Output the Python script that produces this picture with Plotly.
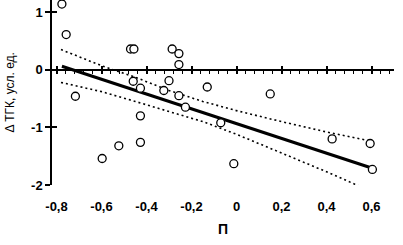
import plotly.graph_objects as go

# ---- data ----
pts_x = [-0.776, -0.757, -0.716, -0.471, -0.456, -0.286, -0.256, -0.256,
         -0.459, -0.427, -0.300, -0.323, -0.256, -0.227, -0.130, 0.150,
         -0.070, -0.427, 0.425, 0.594, 0.604, -0.012, -0.597, -0.523, -0.427]
pts_y = [1.14, 0.61, -0.46, 0.36, 0.36, 0.36, 0.28, 0.09,
         -0.20, -0.32, -0.19, -0.36, -0.45, -0.65, -0.30, -0.42,
         -0.92, -0.80, -1.20, -1.28, -1.73, -1.63, -1.54, -1.32, -1.26]

fit_x = [-0.776, 0.604]
fit_y = [0.06, -1.71]

upper_x = [-0.78, -0.60, -0.45, -0.30, -0.15, 0.00, 0.20, 0.40, 0.60]
upper_y = [0.35, 0.07, -0.13, -0.36, -0.55, -0.71, -0.90, -1.08, -1.24]

lower_x = [-0.78, -0.60, -0.45, -0.30, -0.15, 0.00, 0.20, 0.40, 0.58]
lower_y = [-0.22, -0.38, -0.55, -0.72, -0.90, -1.12, -1.44, -1.77, -2.08]

x_tickvals = [-0.8, -0.6, -0.4, -0.2, 0.0, 0.2, 0.4, 0.6]
x_ticktext = ["-0,8", "-0,6", "-0,4", "-0,2", "0", "0,2", "0,4", "0,6"]
x_minor = [round(-0.8 + 0.04 * i, 2) for i in range(38)]
y_tickvals = [-2, -1, 0, 1]
y_ticktext = ["-2", "-1", "0", "1"]

x_title = "П"
y_title = "Δ ТГК, усл. ед."

x_range = [-0.82, 0.70]
y_range = [-2.0, 1.21]

# ---- figure ----
font = dict(family="Arial, Liberation Sans", size=13, color="black", weight="bold")

fig = go.Figure()
dot = dict(color="black", width=1.6, dash="2px,3px")
fig.add_trace(go.Scatter(x=upper_x, y=upper_y, mode="lines", line=dot, hoverinfo="skip"))
fig.add_trace(go.Scatter(x=lower_x, y=lower_y, mode="lines", line=dot, hoverinfo="skip"))
fig.add_trace(go.Scatter(x=fit_x, y=fit_y, mode="lines",
                         line=dict(color="black", width=3)))
fig.add_trace(go.Scatter(x=pts_x, y=pts_y, mode="markers",
                         marker=dict(symbol="circle", size=8, color="white",
                                     line=dict(color="black", width=1.3))))

zero_pos = (0 - y_range[0]) / (y_range[1] - y_range[0])

fig.update_layout(
    width=403, height=245,
    margin=dict(l=52, r=9, t=0, b=60),
    paper_bgcolor="white", plot_bgcolor="white",
    showlegend=False,
    font=font,
    xaxis=dict(range=x_range, showgrid=False, zeroline=False, showline=False,
               tickvals=x_tickvals, ticktext=x_ticktext, ticks="",
               ticklabelstandoff=12, tickfont=font),
    xaxis2=dict(overlaying="x", matches="x", anchor="free", position=zero_pos,
                range=x_range, showgrid=False, zeroline=False,
                showline=True, linecolor="black", linewidth=1.5,
                tickvals=x_tickvals, ticks="outside", ticklen=4, tickwidth=1.5,
                tickcolor="black", showticklabels=False,
                minor=dict(tickvals=x_minor, ticks="outside", ticklen=4,
                           tickwidth=1.2, tickcolor="black")),
    xaxis3=dict(overlaying="x", matches="x", anchor="free", position=zero_pos,
                range=x_range, showgrid=False, zeroline=False, showline=False,
                tickvals=x_tickvals, ticks="inside", ticklen=4, tickwidth=1.5,
                tickcolor="black", showticklabels=False),
    yaxis=dict(range=y_range, showgrid=False, zeroline=False,
               showline=True, linecolor="black", linewidth=1.5,
               tickvals=y_tickvals, ticktext=y_ticktext, ticks="outside",
               ticklen=5, tickwidth=1.5, tickcolor="black", tickfont=font),
    yaxis2=dict(overlaying="y", matches="y", anchor="x", side="left",
                range=y_range, showgrid=False, zeroline=False, showline=False,
                tickvals=y_tickvals, ticks="inside", ticklen=5, tickwidth=1.5,
                tickcolor="black", showticklabels=False),
    annotations=[
        dict(text=x_title, xref="paper", yref="paper", x=0.5, y=0,
             xanchor="center", yanchor="middle", yshift=-44, showarrow=False,
             font=dict(family="Arial, Liberation Sans", size=14, color="black", weight="bold")),
        dict(text=y_title, xref="paper", yref="paper", x=0, y=0.5,
             xanchor="center", yanchor="middle", xshift=-43, textangle=-90,
             showarrow=False,
             font=dict(family="Arial, Liberation Sans", size=12, color="black",
                       weight="normal")),
    ],
)

# dummy traces to activate overlay axes
fig.add_trace(go.Scatter(x=[None], y=[None], xaxis="x2", yaxis="y", showlegend=False))
fig.add_trace(go.Scatter(x=[None], y=[None], xaxis="x3", yaxis="y2", showlegend=False))

fig.write_html("out.html")
